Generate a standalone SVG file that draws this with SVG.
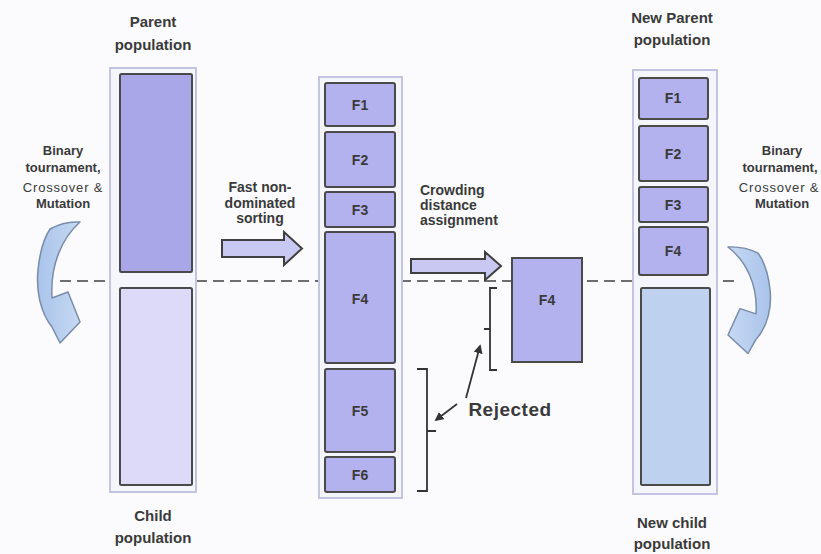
<svg xmlns="http://www.w3.org/2000/svg" width="821" height="554" viewBox="0 0 821 554">
  <style>
    .lbl { font-family: "Liberation Sans", Arial, sans-serif; font-weight: bold; fill: #3a3a3a; text-anchor: middle; }
    .pop { font-size: 15px; }
    .op { font-size: 13px; }
    .op2 { font-size: 13px; font-weight: normal; letter-spacing: 0.8px; }
    .step { font-size: 14px; text-anchor: start; }
    .front { font-size: 14px; }
    .frame { fill: #f5f5fc; stroke: #c3c3e3; stroke-width: 2; }
    .box { fill: #b3b1ee; stroke: #4a4a4a; stroke-width: 2; }
    .parent { fill: #a9a7e7; stroke: #4a4a4a; stroke-width: 2; }
    .child { fill: #dcdaf8; stroke: #4a4a4a; stroke-width: 2; }
    .newchild { fill: #bed2ef; stroke: #4a4a4a; stroke-width: 2; }
    .fatarrow { fill: #c9c8f2; stroke: #3f3f3f; stroke-width: 2; stroke-linejoin: miter; }
    .bend { fill: url(#bendFill); stroke: #7a8cab; stroke-width: 1.5; stroke-linejoin: round; }
    .bracket { fill: none; stroke: #333; stroke-width: 1.8; }
    .pointer { fill: none; stroke: #333; stroke-width: 1.8; marker-end: url(#tip); }
  </style>
  <defs>
    <marker id="tip" viewBox="0 0 10 10" refX="8" refY="5" markerWidth="5" markerHeight="5" orient="auto">
      <path d="M0,0 L10,5 L0,10 Z" fill="#333"/>
    </marker>
    <linearGradient id="bendFill" x1="0" y1="0" x2="1" y2="0">
      <stop offset="0" stop-color="#a9c3ea"/>
      <stop offset="1" stop-color="#c6d9f3"/>
    </linearGradient>
    <!-- curved operator arrow: broad cap at top, bending down to a head pointing right -->
    <path id="bendShape" d="M 50,229 Q 64,221 80,222 C 62,238 50,265 52,298 L 68,292 L 80,322 L 60,343 L 52,327 C 40,312 36,290 38,270 C 40,250 44,238 50,229 Z"/>
  </defs>

  <rect x="0" y="0" width="821" height="554" fill="#fbfbfd"/>

  <g id="connectors">
    <!-- dashed divider between parent and child halves -->
    <line x1="60" y1="281" x2="734" y2="281" stroke="#6e6e6e" stroke-width="2" stroke-dasharray="11 6"/>

    <!-- fast non-dominated sorting arrow -->
    <path class="fatarrow" d="M 222,240 H 284 V 232 L 302,248.5 L 284,265 V 257 H 222 Z"/>
    <!-- crowding distance arrow -->
    <path class="fatarrow" d="M 411,259 H 485 V 252 L 501,266 L 485,280 V 273 H 411 Z"/>

    <!-- genetic operators, parent to child -->
    <use href="#bendShape" class="bend"/>
    <use href="#bendShape" class="bend" transform="translate(808,51.6) scale(-1,0.88)"/>

    <!-- rejected brackets and pointers -->
    <path class="bracket" d="M 417,369 H 427 V 491 H 417 M 427,431 H 436"/>
    <path class="bracket" d="M 497,288 H 490 V 370 H 497 M 490,329 H 484"/>
    <line class="pointer" x1="466" y1="398" x2="480" y2="346"/>
    <line class="pointer" x1="457" y1="404" x2="436" y2="420"/>
  </g>

  <g id="combined-population">
    <rect class="frame" x="110" y="68" width="86" height="424"/>
    <rect class="parent" x="120" y="74" width="72" height="198" rx="1.5"/>
    <rect class="child" x="120" y="288" width="72" height="197" rx="1.5"/>
    <text class="lbl pop" x="153" y="27">Parent</text>
    <text class="lbl pop" x="153" y="50">population</text>
    <text class="lbl pop" x="153" y="521">Child</text>
    <text class="lbl pop" x="153" y="543">population</text>
  </g>

  <g id="left-operators">
    <text class="lbl op" x="63" y="155">Binary</text>
    <text class="lbl op" x="63" y="172">tournament,</text>
    <text class="lbl op2" x="63" y="192">Crossover &amp;</text>
    <text class="lbl op" x="63" y="208">Mutation</text>
  </g>

  <g id="sorting-label">
    <text class="lbl front" x="260" y="192">Fast non-</text>
    <text class="lbl front" x="260" y="208">dominated</text>
    <text class="lbl front" x="260" y="223">sorting</text>
  </g>

  <g id="sorted-fronts">
    <rect class="frame" x="319" y="77" width="83" height="421"/>
    <rect class="box" x="325" y="83" width="70" height="43" rx="2"/>
    <rect class="box" x="325" y="132" width="70" height="55" rx="2"/>
    <rect class="box" x="325" y="192" width="70" height="35" rx="2"/>
    <rect class="box" x="325" y="232" width="70" height="131" rx="2"/>
    <rect class="box" x="325" y="369" width="70" height="83" rx="2"/>
    <rect class="box" x="325" y="457" width="70" height="35" rx="2"/>
    <text class="lbl front" x="360" y="110">F1</text>
    <text class="lbl front" x="360" y="165">F2</text>
    <text class="lbl front" x="360" y="215">F3</text>
    <text class="lbl front" x="360" y="304">F4</text>
    <text class="lbl front" x="360" y="416">F5</text>
    <text class="lbl front" x="360" y="480">F6</text>
  </g>

  <g id="crowding-label">
    <text class="lbl step" x="420" y="195">Crowding</text>
    <text class="lbl step" x="420" y="210">distance</text>
    <text class="lbl step" x="420" y="225">assignment</text>
  </g>

  <g id="front-f4">
    <rect class="box" x="512" y="258" width="70" height="104"/>
    <text class="lbl front" x="547" y="305">F4</text>
  </g>

  <g id="rejected">
    <text class="lbl" x="510" y="416" style="font-size:19px;letter-spacing:0.5px">Rejected</text>
  </g>

  <g id="next-population">
    <rect class="frame" x="633" y="70" width="84" height="424"/>
    <rect class="box" x="639" y="78" width="69" height="41" rx="2"/>
    <rect class="box" x="639" y="126" width="69" height="55" rx="2"/>
    <rect class="box" x="639" y="187" width="69" height="35" rx="2"/>
    <rect class="box" x="639" y="227" width="69" height="48" rx="2"/>
    <rect class="newchild" x="641" y="288" width="69" height="197" rx="1.5"/>
    <text class="lbl front" x="673" y="103">F1</text>
    <text class="lbl front" x="673" y="159">F2</text>
    <text class="lbl front" x="673" y="210">F3</text>
    <text class="lbl front" x="673" y="256">F4</text>
    <text class="lbl pop" x="672" y="23">New Parent</text>
    <text class="lbl pop" x="672" y="45">population</text>
    <text class="lbl pop" x="672" y="528">New child</text>
    <text class="lbl pop" x="672" y="549">population</text>
  </g>

  <g id="right-operators">
    <text class="lbl op" x="782" y="155">Binary</text>
    <text class="lbl op" x="780" y="172">tournament,</text>
    <text class="lbl op2" x="779" y="192">Crossover &amp;</text>
    <text class="lbl op" x="782" y="208">Mutation</text>
  </g>
</svg>
